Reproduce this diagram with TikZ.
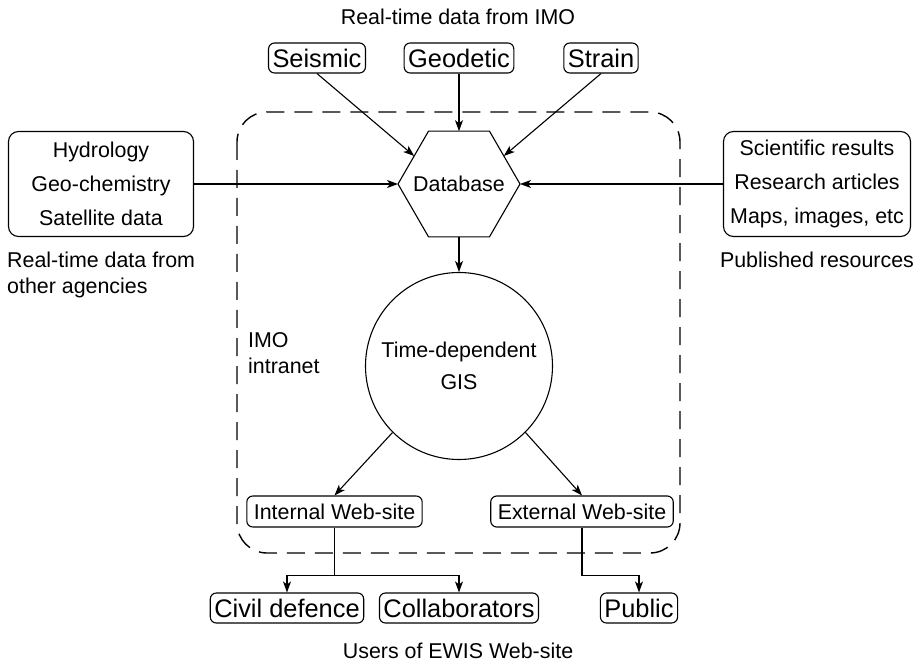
\documentclass[tikz,border=0pt]{standalone}
\usepackage{fontspec}
\setmainfont{Liberation Sans}
\usetikzlibrary{shapes.geometric,arrows.meta}
\begin{document}
\begin{tikzpicture}[x=1pt,y=-1pt,
  every node/.style={font=\fontsize{21.4}{26}\selectfont},
  big/.style={draw,rounded corners=6pt,line width=1.1pt,inner xsep=4pt,inner ysep=0pt,minimum height=30pt,font=\fontsize{25.4}{30}\selectfont},
  web/.style={draw,rounded corners=6pt,line width=1.1pt,inner xsep=7pt,inner ysep=0pt,minimum height=31pt},
  srcbox/.style={draw,rounded corners=10pt,line width=1.1pt,align=center,minimum height=105pt,font=\fontsize{21.4}{34}\selectfont},
  conn/.style={line width=1.1pt,-{Stealth[length=11pt,width=8pt,inset=3pt]}},
  plain/.style={line width=1.1pt}
]
\useasboundingbox (0,0) rectangle (919,663);
% dashed intranet box
\draw[line width=1.4pt,dash pattern=on 18pt off 10pt,rounded corners=30pt] (237,112) rectangle (680,553);

\node (title) at (458,17) {Real-time data from IMO};
\node[big] (seis) at (317,58) {Seismic};
\node[big] (geod) at (459,58) {Geodetic};
\node[big] (strain) at (601,58) {Strain};

\node[draw,regular polygon,regular polygon sides=6,minimum size=122pt,inner sep=0pt,outer sep=0pt,line width=1.1pt] (db) at (459,184) {};
\node at (db.center) {Database};

\node[srcbox,minimum width=185pt] (left) at (101,184) {Hydrology\\Geo-chemistry\\Satellite data};
\node[srcbox,minimum width=187pt,inner xsep=2pt] (right) at (817,184) {Scientific results\\Research articles\\Maps, images, etc};

\node[anchor=north west,align=left,inner sep=0pt] (leftlab) at (7,252) {Real-time data from\\other agencies};
\node (rightlab) at (817,260) {Published resources};

\node[draw,circle,minimum size=187pt,inner sep=0pt,line width=1.1pt,align=center,font=\fontsize{21.4}{32}\selectfont] (gis) at (459,366) {Time-dependent\\GIS};
\node[anchor=west,align=left,inner sep=0pt] (intra) at (248,353) {IMO\\intranet};

\node[web] (int) at (334.5,511.5) {Internal Web-site};
\node[web] (ext) at (582,511.5) {External Web-site};

\node[big] (civil) at (287,608) {Civil defence};
\node[big] (coll) at (459,608) {Collaborators};
\node[big] (pub) at (639,608) {Public};

\node (users) at (458,651) {Users of EWIS Web-site};

% connectors
\draw[conn] (seis.south) -- (db.148);
\draw[conn] (geod.south) -- (db.north);
\draw[conn] (strain.south) -- (db.32);
\draw[conn] (left.east) -- (db.west);
\draw[conn] (right.west) -- (db.east);
\draw[conn] (db.south) -- (gis.north);
\draw[conn] (gis.225) -- (int.north);
\draw[conn] (gis.-45) -- (ext.north);
\coordinate (j1) at (334.5,575.5);
\coordinate (j2) at (639,575.5);
\draw[plain] (int.south) -- (j1);
\draw[conn] (j1) -| (civil.north);
\draw[conn] (j1) -| (coll.north);
\draw[conn] (ext.south) |- (j2) -- (pub.north);
\end{tikzpicture}
\end{document}
